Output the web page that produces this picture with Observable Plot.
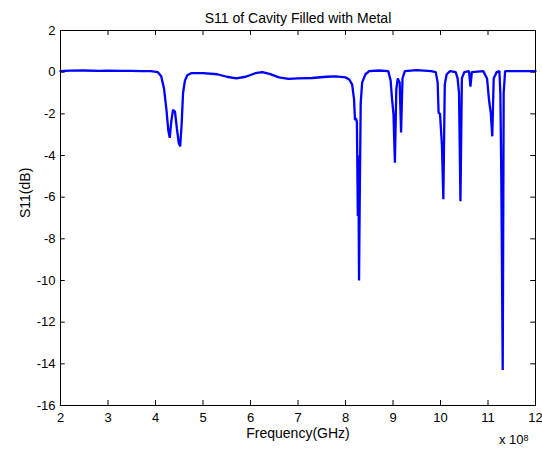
<!DOCTYPE html>
<html>
<head>
<meta charset="utf-8">
<script src="https://cdn.jsdelivr.net/npm/d3@7"></script>
<script src="https://cdn.jsdelivr.net/npm/@observablehq/plot@0.6"></script>
<style>
  html, body { margin: 0; padding: 0; background: white; }
</style>
</head>
<body>
<div id="chart"></div>
<script>
const titleText = "S11 of Cavity Filled with Metal";
const xLabel = "Frequency(GHz)";
const yLabel = "S11(dB)";
const multiplierText = "x 10";
const multiplierExp = "8";

const xTicks = [2, 3, 4, 5, 6, 7, 8, 9, 10, 11, 12];
const yTicks = [-16, -14, -12, -10, -8, -6, -4, -2, 0, 2];

const freq = [
  2.00, 2.20, 2.50, 2.80, 3.00, 3.30, 3.50, 3.70, 3.90, 4.05,
  4.12, 4.18, 4.23, 4.27, 4.30, 4.33, 4.37, 4.41, 4.45, 4.49,
  4.52, 4.55, 4.58, 4.62, 4.67, 4.75, 5.00, 5.30, 5.50, 5.70,
  5.90, 6.10, 6.25, 6.40, 6.60, 6.80, 7.00, 7.30, 7.60, 7.80,
  8.00, 8.08, 8.14, 8.18, 8.20, 8.22, 8.24, 8.26, 8.27, 8.285,
  8.30, 8.32, 8.35, 8.42, 8.50, 8.70, 8.90, 8.95, 8.98, 9.01,
  9.04, 9.07, 9.10, 9.14, 9.17, 9.20, 9.25, 9.50, 9.80, 9.90,
  9.94, 9.96, 9.99, 10.03, 10.06, 10.09, 10.13, 10.20, 10.32, 10.36,
  10.39, 10.42, 10.45, 10.50, 10.60, 10.63, 10.66, 10.90, 10.98, 11.02,
  11.06, 11.09, 11.12, 11.18, 11.24, 11.26, 11.28, 11.31, 11.33, 11.36,
  11.60, 12.00
];
const s11 = [
  0.05, 0.07, 0.08, 0.06, 0.07, 0.06, 0.06, 0.05, 0.05, 0.00,
  -0.20, -0.80, -1.80, -2.80, -3.15, -2.40, -1.80, -1.90, -2.70, -3.40,
  -3.56, -2.50, -1.00, -0.40, -0.15, -0.05, -0.05, -0.10, -0.22, -0.30,
  -0.22, -0.05, 0.00, -0.08, -0.25, -0.32, -0.30, -0.28, -0.22, -0.20,
  -0.25, -0.35, -0.60, -1.30, -2.30, -2.20, -2.40, -6.90, -4.00, -10.00,
  -6.00, -1.50, -0.50, -0.10, 0.05, 0.08, 0.05, -0.40, -1.30, -2.00,
  -4.35, -0.80, -0.30, -0.50, -2.90, -0.30, 0.05, 0.10, 0.05, 0.00,
  -0.50, -1.95, -2.00, -3.50, -6.10, -0.60, -0.10, 0.05, 0.00, -0.30,
  -1.00, -6.20, -0.30, 0.00, 0.05, -0.70, 0.00, 0.05, -0.30, -1.30,
  -2.00, -3.08, -0.30, 0.00, 0.05, -1.00, -5.00, -14.30, -1.00, 0.05,
  0.05, 0.05
];

const data = freq.map((f, i) => ({f, s: s11[i]}));
const xMin = xTicks[0], xMax = xTicks[xTicks.length - 1];
const yMin = yTicks[0], yMax = yTicks[yTicks.length - 1];
const font = "'Liberation Sans', Arial, Helvetica, sans-serif";
const fmt = d => String(d);

const chart = Plot.plot({
  width: 542,
  height: 458,
  marginTop: 30,
  marginBottom: 53,
  marginLeft: 60,
  marginRight: 7,
  style: {fontFamily: font, fontSize: "13px", background: "white", color: "black", overflow: "visible"},
  x: {domain: [xMin, xMax], ticks: xTicks, label: null},
  y: {domain: [yMin, yMax], ticks: yTicks, label: null},
  marks: [
    Plot.ruleX(xTicks, {x: d => d, y1: yMin, y2: yMin + 0.24, stroke: "black"}),
    Plot.ruleX(xTicks, {x: d => d, y1: yMax, y2: yMax - 0.24, stroke: "black"}),
    Plot.ruleY(yTicks, {y: d => d, x1: xMin, x2: xMin + 0.1, stroke: "black"}),
    Plot.ruleY(yTicks, {y: d => d, x1: xMax, x2: xMax - 0.1, stroke: "black"}),
    Plot.line(data, {x: "f", y: "s", stroke: "#0000ff", strokeWidth: 2.3, strokeLinejoin: "miter"}),
    Plot.frame({stroke: "black"}),
    Plot.axisX({ticks: xTicks, tickFormat: fmt, tickSize: 0, tickPadding: 7, label: null, fontSize: 13}),
    Plot.axisY({ticks: yTicks, tickFormat: fmt, tickSize: 0, tickPadding: 5, label: null, fontSize: 13}),
    Plot.text([titleText], {frameAnchor: "top", dy: -17, fontSize: 14, fill: "black"}),
    Plot.text([xLabel], {frameAnchor: "bottom", dy: 32, fontSize: 14, fill: "black"}),
    Plot.text([yLabel], {frameAnchor: "left", dx: -35, rotate: -90, fontSize: 14, fill: "black"}),
    Plot.text([multiplierText], {frameAnchor: "bottom-right", textAnchor: "end", dx: -12, dy: 38, fontSize: 13, fill: "black"}),
    Plot.text([multiplierExp], {frameAnchor: "bottom-right", textAnchor: "start", dx: -12, dy: 35, fontSize: 9, fill: "black"})
  ]
});
document.getElementById("chart").appendChild(chart);
</script>
</body>
</html>
